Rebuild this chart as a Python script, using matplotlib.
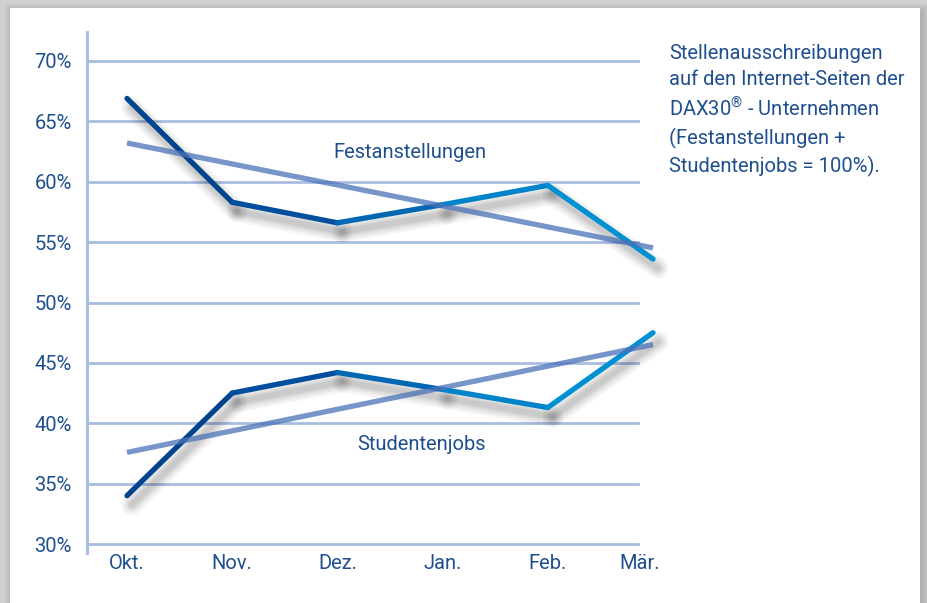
import numpy as np
import matplotlib
matplotlib.use("Agg")
import matplotlib.pyplot as plt
from matplotlib import font_manager
from matplotlib.collections import LineCollection
from matplotlib.colors import LinearSegmentedColormap
from matplotlib.patches import Rectangle
from matplotlib.transforms import ScaledTranslation
import matplotlib.patheffects as pe

months = ["Okt.", "Nov.", "Dez.", "Jan.", "Feb.", "Mär."]
festanstellungen = [66.9, 58.3, 56.6, 58.1, 59.7, 53.6]
studentenjobs = [34.0, 42.5, 44.2, 42.8, 41.3, 47.5]
y_ticks = [30, 35, 40, 45, 50, 55, 60, 65, 70]
note = ("Stellenausschreibungen\n"
        "auf den Internet-Seiten der\n"
        "DAX30$^{®}$ - Unternehmen\n"
        "(Festanstellungen +\n"
        "Studentenjobs = 100%).")

names = {f.name for f in font_manager.fontManager.ttflist}
if "Liberation Sans Narrow" in names:
    FONT, FS = "Liberation Sans Narrow", 16
else:
    FONT, FS = "Roboto", 14.5
plt.rcParams["font.family"] = [FONT, "DejaVu Sans"]
plt.rcParams["mathtext.fontset"] = "custom"
plt.rcParams["mathtext.rm"] = FONT

TXT = "#1f4f8f"
GRID = "#a9bde1"
TREND = "#4a72b8"
cmap = LinearSegmentedColormap.from_list("blues", ["#003f85", "#0050a0", "#0080c6", "#0098d8"])

W, H = 927, 603
fig = plt.figure(figsize=(W / 100, H / 100), dpi=100, facecolor="#cfcfcf")

# white card with soft shadow
bg = fig.add_axes([0, 0, 1, 1], zorder=-10)
bg.set_xlim(0, W)
bg.set_ylim(H, 0)
bg.axis("off")
for i in range(8):
    bg.add_patch(Rectangle((10 - i + 2, 8 - i + 3), 910 + 2 * i, 620, facecolor="#808080",
                           alpha=0.05, edgecolor="none"))
bg.add_patch(Rectangle((10, 8), 910, 620, facecolor="white", edgecolor="none"))

# plot axes: x=0 at px 127, step 105.2 px; y 70% at px 61, 12.075 px per %
x0, dx = 127, 105.2
xmin, xmax = -0.38, 5.0
ax_left = x0 + xmin * dx
ax_w = (xmax - xmin) * dx
y_top, y_bot = 32, 553
ax = fig.add_axes([ax_left / W, 1 - y_bot / H, ax_w / W, (y_bot - y_top) / H])
ax.set_xlim(xmin, xmax)
ax.set_ylim(30 - (y_bot - 544) / 12.075, 70 + (61 - y_top) / 12.075)
ax.patch.set_alpha(0)
for s in ["top", "right", "bottom"]:
    ax.spines[s].set_visible(False)
ax.spines["left"].set_color(GRID)
ax.spines["left"].set_linewidth(2.2)

grid_end = (638 - ax_left) / ax_w
for v in y_ticks:
    ax.axhline(v, xmin=0, xmax=grid_end, color=GRID, lw=2.0, zorder=1)

ax.set_yticks(y_ticks)
ax.set_yticklabels([f"{v}%" for v in y_ticks])
ax.set_xticks(range(len(months)))
ax.set_xticklabels(months)
ax.tick_params(axis="y", length=0, pad=11, labelsize=FS, labelcolor=TXT)
ax.tick_params(axis="x", length=0, pad=1, labelsize=FS, labelcolor=TXT)
last = ax.get_xticklabels()[-1]
last.set_transform(last.get_transform() + ScaledTranslation(-0.13, 0, fig.dpi_scale_trans))

x = np.arange(len(months))
shadow = [pe.SimpleLineShadow(offset=(3.5, -6.5), shadow_color="#000000", alpha=0.045,
                              linewidth=w) for w in (15, 11.5, 8.5, 6, 4)] + [pe.Normal()]


def gradient_line(values):
    pts = np.column_stack([x, values])
    segs = np.stack([pts[:-1], pts[1:]], axis=1)
    mids = (x[:-1] + x[1:]) / 2 / x[-1]
    lc = LineCollection(segs, colors=cmap(mids), linewidths=3.8, capstyle="round",
                        joinstyle="miter", zorder=3, clip_on=False)
    lc.set_path_effects(shadow)
    ax.add_collection(lc)


for vals in (festanstellungen, studentenjobs):
    gradient_line(vals)
    k, b = np.polyfit(x, vals, 1)
    ax.plot(x[[0, -1]], k * x[[0, -1]] + b, color=TREND, lw=3.8, alpha=0.75,
            solid_capstyle="butt", zorder=4, clip_on=False)

ax.text(2.69, 62.4, "Festanstellungen", ha="center", va="center", fontsize=FS, color=TXT)
ax.text(2.8, 38.2, "Studentenjobs", ha="center", va="center", fontsize=FS, color=TXT)

fig.text(669 / W, 1 - 44 / H, note, ha="left", va="top", fontsize=FS, color=TXT,
         linespacing=1.45)

fig.savefig("out.png", dpi=100, facecolor=fig.get_facecolor())
